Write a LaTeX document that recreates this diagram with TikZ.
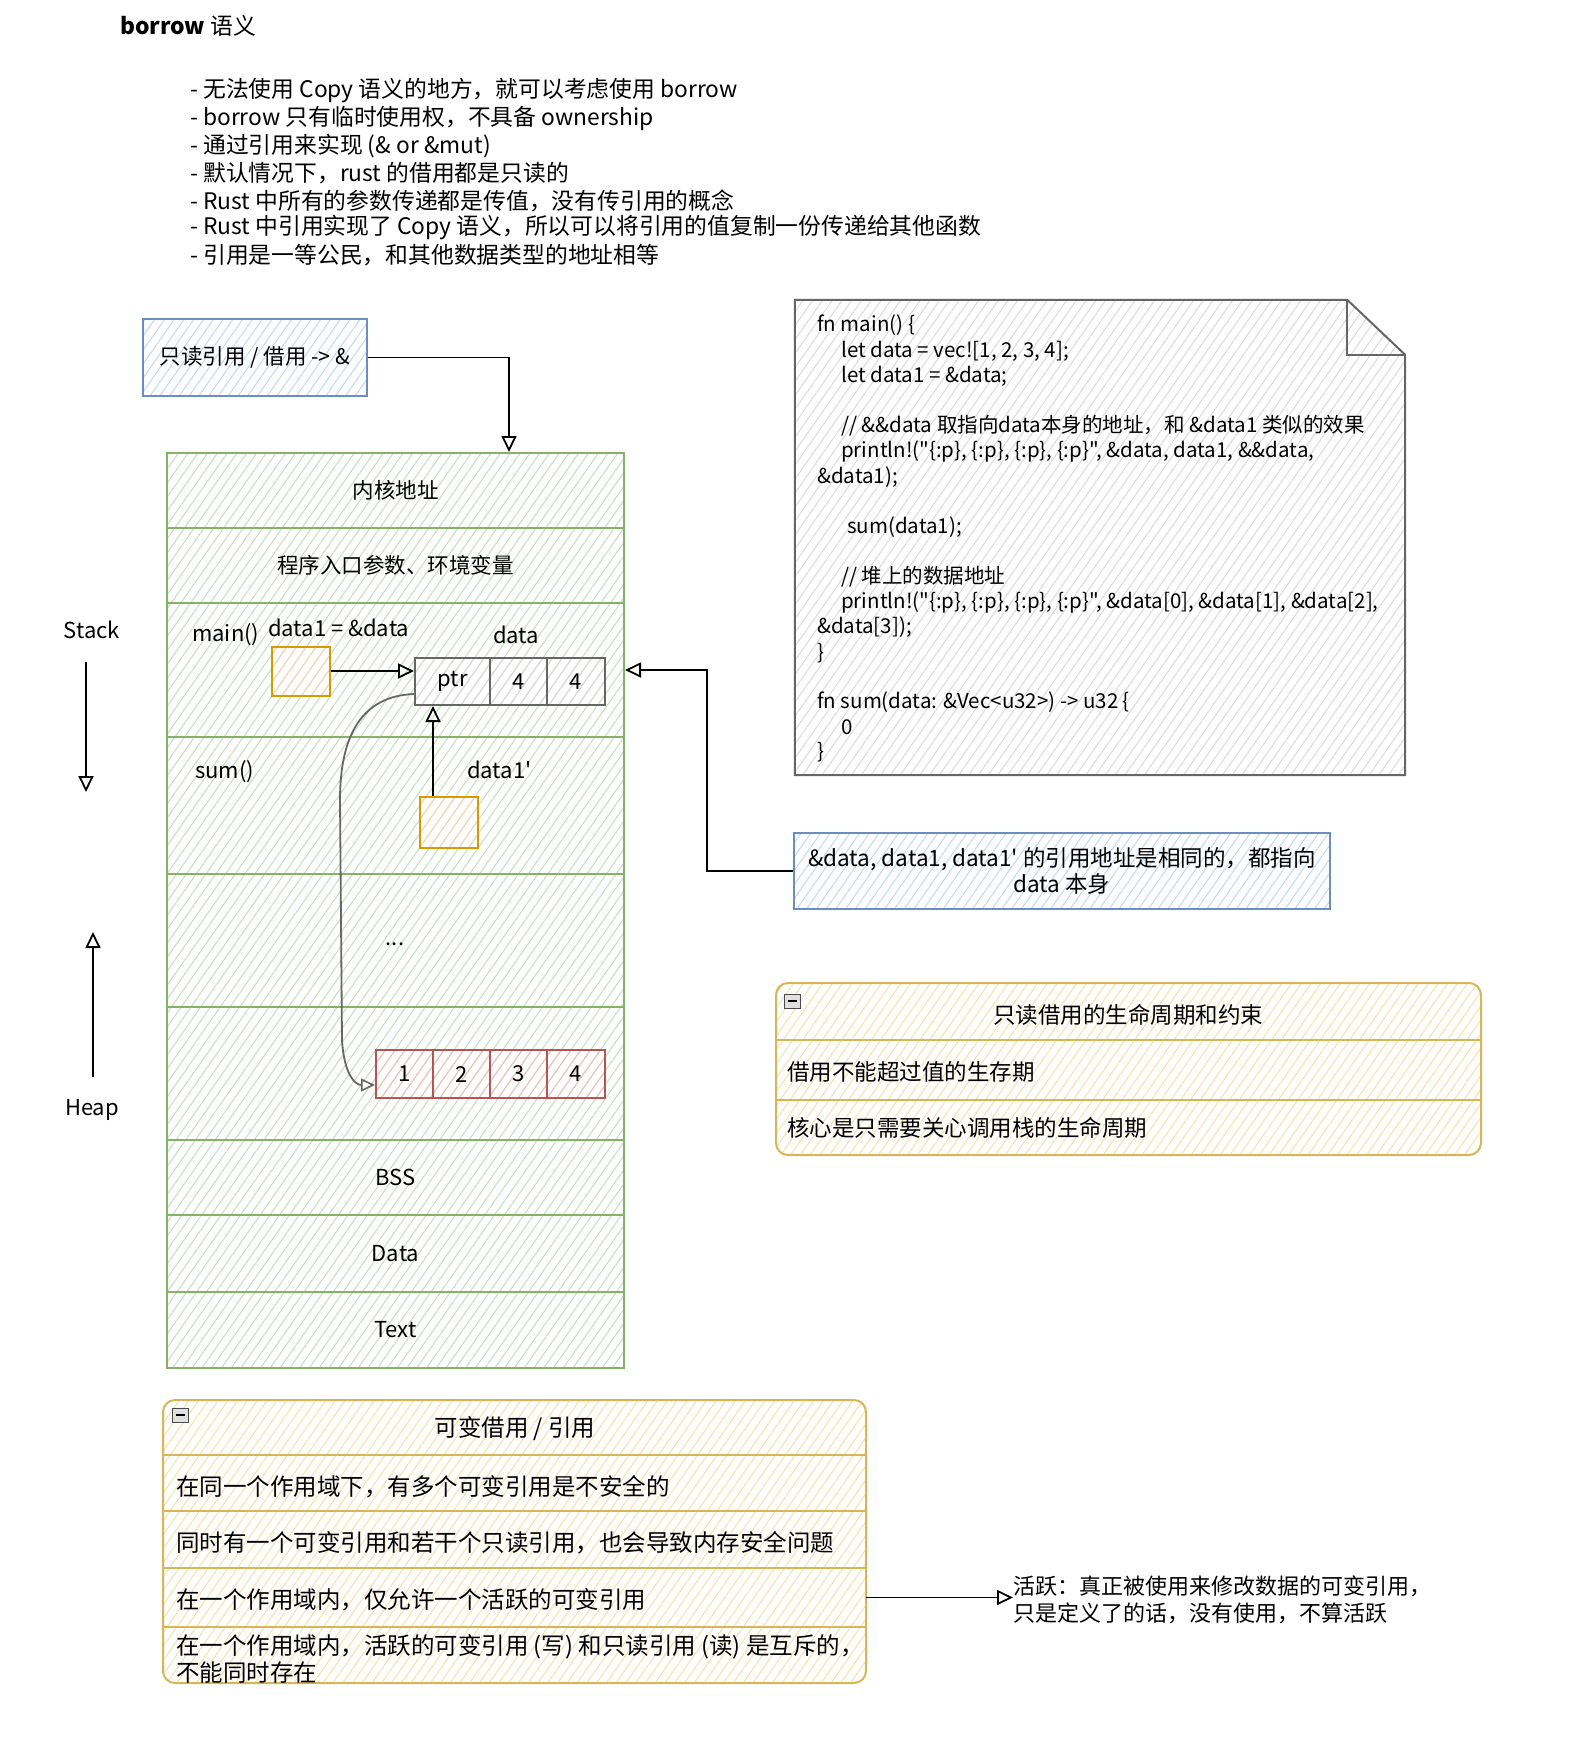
\documentclass[tikz,border=0pt]{standalone}
\usepackage{fontspec}
\setmainfont{Noto Sans CJK SC}[Ligatures=TeXOff]
\usetikzlibrary{arrows.meta,patterns.meta,calc}
\definecolor{grnS}{HTML}{82B366}
\definecolor{grnF}{HTML}{C5DDBF}
\definecolor{bluS}{HTML}{6C8EBF}
\definecolor{bluF}{HTML}{C2D6F3}
\definecolor{orgS}{HTML}{D79B00}
\definecolor{orgF}{HTML}{FAD5B0}
\definecolor{redS}{HTML}{B85450}
\definecolor{redF}{HTML}{F2BFBD}
\definecolor{ylwS}{HTML}{D6B656}
\definecolor{ylwF}{HTML}{F3E1A8}
\definecolor{gryS}{HTML}{666666}
\definecolor{gryF}{HTML}{DADADA}
\newcommand\fsz[2]{\fontsize{#1}{#2}\selectfont}
\newcommand\dq{\char34\relax}
\newcommand\sq{\char39\relax}
\tikzset{
  hatch/.style={pattern={Lines[angle=55,distance=8pt,line width=1pt]},pattern color=#1},
  box/.style={draw=#1S, line width=2pt, hatch=#1F, inner sep=0pt},
  srow/.style={box=grn, minimum width=457, font=\fsz{21.5}{26}},
  lbl/.style={font=\fsz{22}{26}, inner sep=0pt},
  bul/.style={anchor=west, font=\fsz{22.8}{28}, inner sep=0pt},
  codet/.style={anchor=west, font=\fsz{20.5}{25}, inner sep=0pt},
  ltxt/.style={anchor=west, font=\fsz{22.5}{27}, inner sep=0pt, align=left},
  ltxtb/.style={anchor=west, font=\fsz{23.5}{27}, inner sep=0pt, align=left},
  lrow/.style={minimum height=#1, inner sep=0pt},
  sep/.style={draw=ylwS, line width=2pt},
  minus/.style={draw=gray!60!black, fill=gray!25, minimum width=16, minimum height=14, inner sep=0pt, line width=0.8pt},
  arr/.style={-{Triangle[open,length=16pt,width=15pt,line width=1.8pt]}, line width=1.8pt},
  garr/.style={-{Triangle[open,length=14pt,width=13pt,line width=1.6pt]}, line width=1.8pt, draw=gryS},
}
\begin{document}
\begin{tikzpicture}[x=1pt,y=-1pt]
\useasboundingbox (0,0) rectangle (1584,1740);

% title and bullets
\node[bul] (title) at (120,26) {\textbf{borrow} 语义};
\node[bul] (b1) at (190,91) {- 无法使用 Copy 语义的地方，就可以考虑使用 borrow};
\node[bul] (b2) at (190,118.5) {- borrow 只有临时使用权，不具备 ownership};
\node[bul] (b3) at (190,146) {- 通过引用来实现 (\& or \&mut)};
\node[bul] (b4) at (190,173) {- 默认情况下，rust 的借用都是只读的};
\node[bul] (b5) at (190,200.5) {- Rust 中所有的参数传递都是传值，没有传引用的概念};
\node[bul] (b6) at (190,228) {- Rust 中引用实现了 Copy 语义，所以可以将引用的值复制一份传递给其他函数};
\node[bul] (b7) at (190,255) {- 引用是一等公民，和其他数据类型的地址相等};

% read-only ref box
\node[box=blu, minimum width=224, minimum height=77, font=\fsz{21.5}{26}] (ro) at (255,357.5) {只读引用 / 借用 -> \&};

% stack rows
\node[srow, minimum height=75] (kern) at (395.5,490.5) {内核地址};
\node[srow, minimum height=75] (env) at (395.5,565.5) {程序入口参数、环境变量};
\node[srow, minimum height=134] (mainrow) at (395.5,670) {};
\node[srow, minimum height=137] (sumrow) at (395.5,805.5) {};
\node[srow, minimum height=133] (gaprow) at (395.5,940.5) {};
\node[srow, minimum height=133] (heaprow) at (395.5,1073.5) {};
\node[srow, minimum height=75, font=\fsz{22}{26}] (bss) at (395.5,1177.5) {BSS};
\node[srow, minimum height=77, font=\fsz{22}{26}] (datar) at (395.5,1253.5) {Data};
\node[srow, minimum height=76, font=\fsz{22}{26}] (textr) at (395.5,1330) {Text};
\node[lbl] (dots) at (395,944) {...};

% labels in stack
\node[lbl, anchor=west] (mainlbl) at (192,635) {main()};
\node[lbl, anchor=west] (d1lbl) at (268,628) {data1 = \&data};
\node[lbl] (datalbl) at (516,635) {data};
\node[lbl, anchor=west] (sumlbl) at (195,772) {sum()};
\node[lbl, anchor=west] (d1plbl) at (467,770) {data1\sq};

% orange reference boxes
\node[box=org, minimum width=58, minimum height=49] (d1) at (301,671) {};
\node[box=org, minimum width=58, minimum height=51] (d1p) at (449,822) {};

% data cells
\node[box=gry, minimum width=75, minimum height=47, font=\fsz{22}{26}] (ptr) at (452.5,681.5) {ptr};
\node[box=gry, minimum width=57, minimum height=47, font=\fsz{22}{26}] (len) at (518.5,681.5) {4};
\node[box=gry, minimum width=58, minimum height=47, font=\fsz{22}{26}] (cap) at (576,681.5) {4};

% heap cells
\node[box=red, minimum width=57, minimum height=48, font=\fsz{22}{26}] (h1) at (404.5,1074) {1};
\node[box=red, minimum width=57, minimum height=48, font=\fsz{22}{26}] (h2) at (461.5,1074) {2};
\node[box=red, minimum width=57, minimum height=48, font=\fsz{22}{26}] (h3) at (518.5,1074) {3};
\node[box=red, minimum width=58, minimum height=48, font=\fsz{22}{26}] (h4) at (576,1074) {4};

% stack / heap labels and arrows
\node[lbl] (stk) at (92,630) {Stack};
\node[lbl] (hp) at (92,1110) {Heap};
\coordinate (sa1) at (86,662);
\coordinate (sa2) at (86,792);
\coordinate (ha1) at (93,1077);
\coordinate (ha2) at (93,932);
\draw[arr] (sa1) -- (sa2);
\draw[arr] (ha1) -- (ha2);

% connectors in stack
\draw[arr] (d1.east) -- (d1.east -| ptr.west);
\coordinate (d1pt) at ($(d1p.north west)+(14,0)$);
\draw[arr] (d1pt) -- (d1pt |- ptr.south);
\draw[garr] ($(ptr.south west)+(0,-12)$) .. controls (362,696) and (340,735) .. (340,800)
  -- (342,1040) .. controls (344,1074) and (355,1085) .. ($(h1.west)+(0,11)$);

% ro -> stack
\coordinate (kt) at ($(kern.north east)+(-116,0)$);
\draw[arr] (ro.east) -| (kt);

% code note
\node[minimum width=610, minimum height=475, inner sep=0pt] (code) at (1100,537.5) {};
\draw[box=gry] (code.north west) -- ($(code.north east)+(-58,0)$) -- ($(code.north east)+(0,55)$)
  -- (code.south east) -- (code.south west) -- cycle;
\draw[draw=gryS, line width=2pt] ($(code.north east)+(-58,0)$) -- ($(code.north east)+(-58,55)$) -- ($(code.north east)+(0,55)$);
\node[codet] (c1) at (817,325) {fn main() \{};
\node[codet] (c2) at (841,351) {let data = vec![1, 2, 3, 4];};
\node[codet] (c3) at (841,376) {let data1 = \&data;};
\node[codet] (c4) at (841,426) {// \&\&data 取指向data本身的地址，和 \&data1 类似的效果};
\node[codet] (c5) at (841,451) {println!(\dq\{:p\}, \{:p\}, \{:p\}, \{:p\}\dq, \&data, data1, \&\&data,};
\node[codet] (c6) at (817,477) {\&data1);};
\node[codet] (c7) at (847,527) {sum(data1);};
\node[codet] (c8) at (841,577) {// 堆上的数据地址};
\node[codet] (c9) at (841,602) {println!(\dq\{:p\}, \{:p\}, \{:p\}, \{:p\}\dq, \&data[0], \&data[1], \&data[2],};
\node[codet] (c10) at (817,627) {\&data[3]);};
\node[codet] (c11) at (817,653) {\}};
\node[codet] (c12) at (817,702) {fn sum(data: \&Vec<u32>) -> u32 \{};
\node[codet] (c13) at (841,727) {0};
\node[codet] (c14) at (817,752) {\}};

% blue note
\node[box=blu, minimum width=536, minimum height=76, align=center, font=\fsz{22.5}{26}] (note) at (1062,871)
  {\&data, data1, data1\sq{} 的引用地址是相同的，都指向\\data 本身};
\draw[arr] (note.west) -- ++(-86,0) |- (mainrow.east);

% list 1: read-only borrow lifetime
\node[box=ylw, rounded corners=12pt, minimum width=705, minimum height=172] (l1) at (1128.5,1069) {};
\node[lrow=57, minimum width=705] (l1h) at (1128.5,1011.5) {};
\node[lrow=60, minimum width=705] (l1r1) at (1128.5,1070) {};
\node[lrow=55, minimum width=705] (l1r2) at (1128.5,1127.5) {};
\draw[sep] (l1h.south west) -- (l1h.south east);
\draw[sep] (l1r1.south west) -- (l1r1.south east);
\node[ltxt, anchor=center] (l1ht) at (1128,1015) {只读借用的生命周期和约束};
\node[ltxt] (l1t1) at (787,1072) {借用不能超过值的生存期};
\node[ltxt] (l1t2) at (787,1128) {核心是只需要关心调用栈的生命周期};
\node[minus] (m1) at (792,1001) {\rule{9pt}{2.5pt}};

% list 2: mutable borrow
\node[box=ylw, rounded corners=12pt, minimum width=703, minimum height=283] (l2) at (514.5,1541.5) {};
\node[lrow=55, minimum width=703] (l2h) at (514.5,1427.5) {};
\node[lrow=56, minimum width=703] (l2r1) at (514.5,1483) {};
\node[lrow=57, minimum width=703] (l2r2) at (514.5,1539.5) {};
\node[lrow=59, minimum width=703] (l2r3) at (514.5,1597.5) {};
\node[lrow=56, minimum width=703] (l2r4) at (514.5,1655) {};
\draw[sep] (l2h.south west) -- (l2h.south east);
\draw[sep] (l2r1.south west) -- (l2r1.south east);
\draw[sep] (l2r2.south west) -- (l2r2.south east);
\draw[sep] (l2r3.south west) -- (l2r3.south east);
\node[ltxtb, anchor=center] (l2ht) at (515,1429) {可变借用 / 引用};
\node[ltxtb] (l2t1) at (176,1487) {在同一个作用域下，有多个可变引用是不安全的};
\node[ltxtb] (l2t2) at (176,1543) {同时有一个可变引用和若干个只读引用，也会导致内存安全问题};
\node[ltxtb] (l2t3) at (176,1600) {在一个作用域内，仅允许一个活跃的可变引用};
\node[ltxtb] (l2t4) at (176,1658.5) {在一个作用域内，活跃的可变引用 (写) 和只读引用 (读) 是互斥的，\\不能同时存在};
\node[minus] (m2) at (180,1415) {\rule{9pt}{2.5pt}};

% active note
\node[anchor=west, font=\fsz{22}{26.5}, align=left, inner sep=0pt] (act) at (1013,1600)
  {活跃：真正被使用来修改数据的可变引用，\\只是定义了的话，没有使用，不算活跃};
\draw[arr] (l2r3.east) -- (l2r3.east -| act.west);
\end{tikzpicture}
\end{document}
